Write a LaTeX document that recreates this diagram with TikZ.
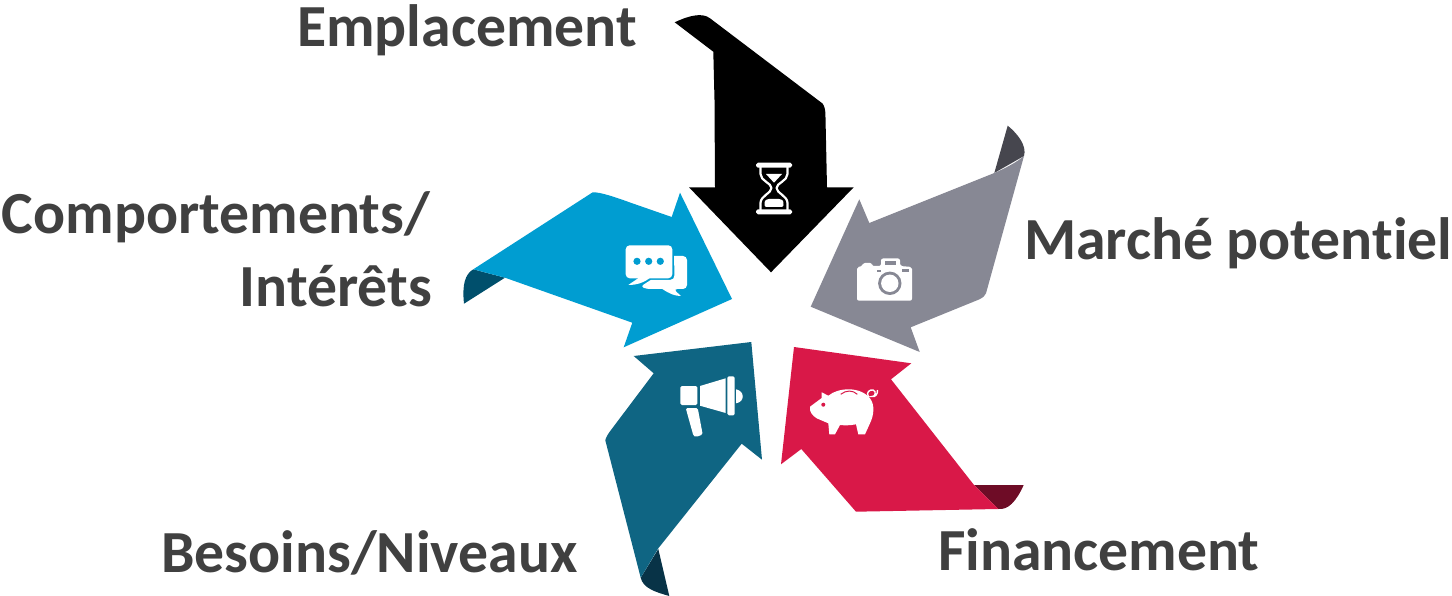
\documentclass[tikz,border=0pt]{standalone}
\usepackage{fontspec}
\setmainfont[Ligatures=NoCommon]{Carlito}
\definecolor{txt}{HTML}{404040}
\definecolor{grayA}{HTML}{878894}
\definecolor{grayB}{HTML}{46464E}
\definecolor{blueA}{HTML}{009DD1}
\definecolor{blueB}{HTML}{004F6C}
\definecolor{tealA}{HTML}{0F6583}
\definecolor{tealB}{HTML}{083347}
\definecolor{redA}{HTML}{D91848}
\definecolor{redB}{HTML}{6E0C26}
\tikzset{
  lab/.style={inner sep=0pt,text=txt,font=\fontsize{59.7}{60}\selectfont\bfseries},
  icon/.style={fill=white,draw=none},
}
\begin{document}
\begin{tikzpicture}[x=1pt,y=-1pt]
\useasboundingbox (0,0) rectangle (1452,596);
% black arrow
\fill[black] (674.7,22.3) .. controls (688,16) and (702,12) .. (710,18.3) -- (822.5,103.5)
  .. controls (824.5,106) and (825.2,110) .. (825.4,113) -- (827,187.3) -- (853.7,187.3) -- (771,272.3)
  -- (689,187.3) -- (715,187.3) -- (714.5,100) -- (713.3,51.7) -- cycle;
% gray arrow
\fill[grayB] (1007.7,125.7) .. controls (1018,134) and (1027,146) .. (1024,156) -- (994.3,173) -- cycle;
\fill[grayA] (859.3,199.3) -- (869.3,223) -- (994.3,173) .. controls (1006,168) and (1017,162) .. (1024,156)
  -- (986,293.3) .. controls (985,296) and (983,297.5) .. (979,299.5) -- (910.7,327.3) -- (919.7,352) -- (810.7,306.7) -- cycle;
% blue arrow
\fill[blueB] (473.3,269.3) .. controls (465,274) and (462,285) .. (464,303.7) -- (505,277.7) -- cycle;
\fill[blueA] (680,192.7) -- (732,299) -- (623.7,347.3) -- (632.3,322.7) -- (505,277.7) -- (473.3,269.3)
  -- (592.7,192.3) .. controls (600,192) and (615,197) .. (630,202.5) -- (671.7,217) -- cycle;
% teal arrow
\fill[tealB] (658.3,549) -- (669.3,596) .. controls (655,592) and (643,588) .. (640.7,577.7) -- cycle;
\fill[tealA] (751.3,342) -- (762,459.7) -- (741.7,443.7) -- (658.3,548.3) -- (640.7,577.7) -- (605.3,440.3)
  .. controls (606,437) and (608,434) .. (611,430) -- (653.7,373.3) -- (633.7,356) -- cycle;
% red arrow
\fill[redB] (974,485) -- (1023.7,485) .. controls (1016,502) and (1008,510) .. (998.3,509) -- cycle;
\fill[redA] (794,347) -- (911.3,363.3) -- (891,379.3) -- (974,485) -- (998.3,509) -- (856,511.7)
  -- (801.3,449) -- (781,464.3) -- cycle;
% hourglass
\draw[white,line width=2.2pt,line join=round] (760.5,167) -- (760.5,174) .. controls (760.5,181) and (771.5,183) .. (771.5,188)
  .. controls (771.5,193) and (760.5,196) .. (760.5,203) -- (760.5,210);
\draw[white,line width=2.2pt,line join=round] (787.5,167) -- (787.5,174) .. controls (787.5,181) and (776.5,183) .. (776.5,188)
  .. controls (776.5,193) and (787.5,196) .. (787.5,203) -- (787.5,210);
\fill[white,rounded corners=1.8pt] (756,162.7) rectangle (792,167.7);
\fill[white,rounded corners=1.8pt] (756,209.3) rectangle (792,214.3);
\fill[white] (766,174) -- (782,174) -- (774,182.7) -- cycle;
\fill[white,rounded corners=2pt] (764.5,207) -- (764.5,203) .. controls (765,200) and (768,199) .. (771,199) -- (777,199) .. controls (780,199) and (783,200) .. (783.5,203) -- (783.5,207) -- cycle;
% camera
\fill[icon,rounded corners=2pt] (857,300.7) -- (857,267) -- (863,266) -- (863,263) -- (872,263) -- (872,266) -- (881,266) -- (881,258.5) -- (900,258.5) -- (900,266) -- (912,267) -- (912,300.7) -- cycle;
\fill[grayA] (885.3,260.7) rectangle (896,265);
\fill[grayA] (902.3,269.3) rectangle (909,272.3);
\fill[grayA] (876.7,270) rectangle (880.5,272.3);
\fill[grayA] (889.8,283.3) circle (11.7);
\fill[white] (889.8,283.3) circle (8.7);
% chat bubbles
\fill[icon,rounded corners=4pt] (674,256) -- (687,256) -- (687,289) -- (673.3,289) [sharp corners] -- (681,296) .. controls (675,296) and (670,294) .. (662.3,289) [rounded corners=3pt] -- (646.7,289) -- (640.7,286.5) [sharp corners] -- (650.7,280) -- (670,280) .. controls (673,280) and (674.5,278) .. (674.5,275) -- cycle;
\fill[icon,rounded corners=4pt] (625.7,245.3) rectangle (672.3,278.3);
\fill[icon] (640,277) -- (628.3,285) .. controls (636,285) and (644,283) .. (651,277) -- cycle;
\foreach \px in {637,648.7,660.3} \fill[blueA] (\px,261.3) circle (3.6);
% megaphone
\fill[icon,rounded corners=1.5pt] (680.3,386) rectangle (697.3,405);
\fill[icon] (700,386) -- (725.7,378.3) -- (725.7,413) -- (700,405.7) -- cycle;
\fill[icon,rounded corners=1.5pt] (727.3,376.3) rectangle (734.7,415.3);
\fill[icon] (736,389.3) .. controls (745,391) and (745,402) .. (736,403.3) -- cycle;
\fill[icon,rounded corners=1.5pt] (685.7,408) -- (697.7,408) -- (702.7,434.5) -- (696,437) -- (693.5,436) -- cycle;
% piggy
\fill[icon] (810,406.7) -- (821.7,398) -- (821.7,392.3) -- (828.3,395.7)
  .. controls (838,387.5) and (860,386) .. (870,398.3) .. controls (875,405) and (874,415) .. (870,423.3)
  -- (865,434.3) -- (858.3,434.3) -- (856,424.3) .. controls (850,425.5) and (845,425.5) .. (840,425)
  -- (835,434.3) -- (829.3,434.3) -- (828.3,423.3) -- (816.7,418.3) .. controls (813,416) and (809,412) .. (810,406.7) -- cycle;
\fill[redA] (823.3,404.7) circle (2);
\draw[redA,line width=1pt] (840.7,394.3) .. controls (846,390) and (853,390) .. (857.3,394.3);
\draw[white,line width=1.4pt] (868.5,397) .. controls (865.5,392) and (870,389.5) .. (873,390) .. controls (877,391) and (875,397.5) .. (872,396.5) .. controls (875,397.5) and (878,394) .. (877.5,390);
% labels
\node[lab,anchor=base west] (emplacement) at (297,47) {Emplacement};
\node[lab,anchor=base west] (marche) at (1024,260) {Marché potentiel};
\node[lab,anchor=base east] (comportements) at (430,234) {Comportements/};
\node[lab,anchor=base east] (interets) at (432,306) {Intérêts};
\node[lab,anchor=base west] (besoins) at (161,572) {Besoins/Niveaux};
\node[lab,anchor=base west] (financement) at (938,570.5) {Financement};
\end{tikzpicture}
\end{document}
